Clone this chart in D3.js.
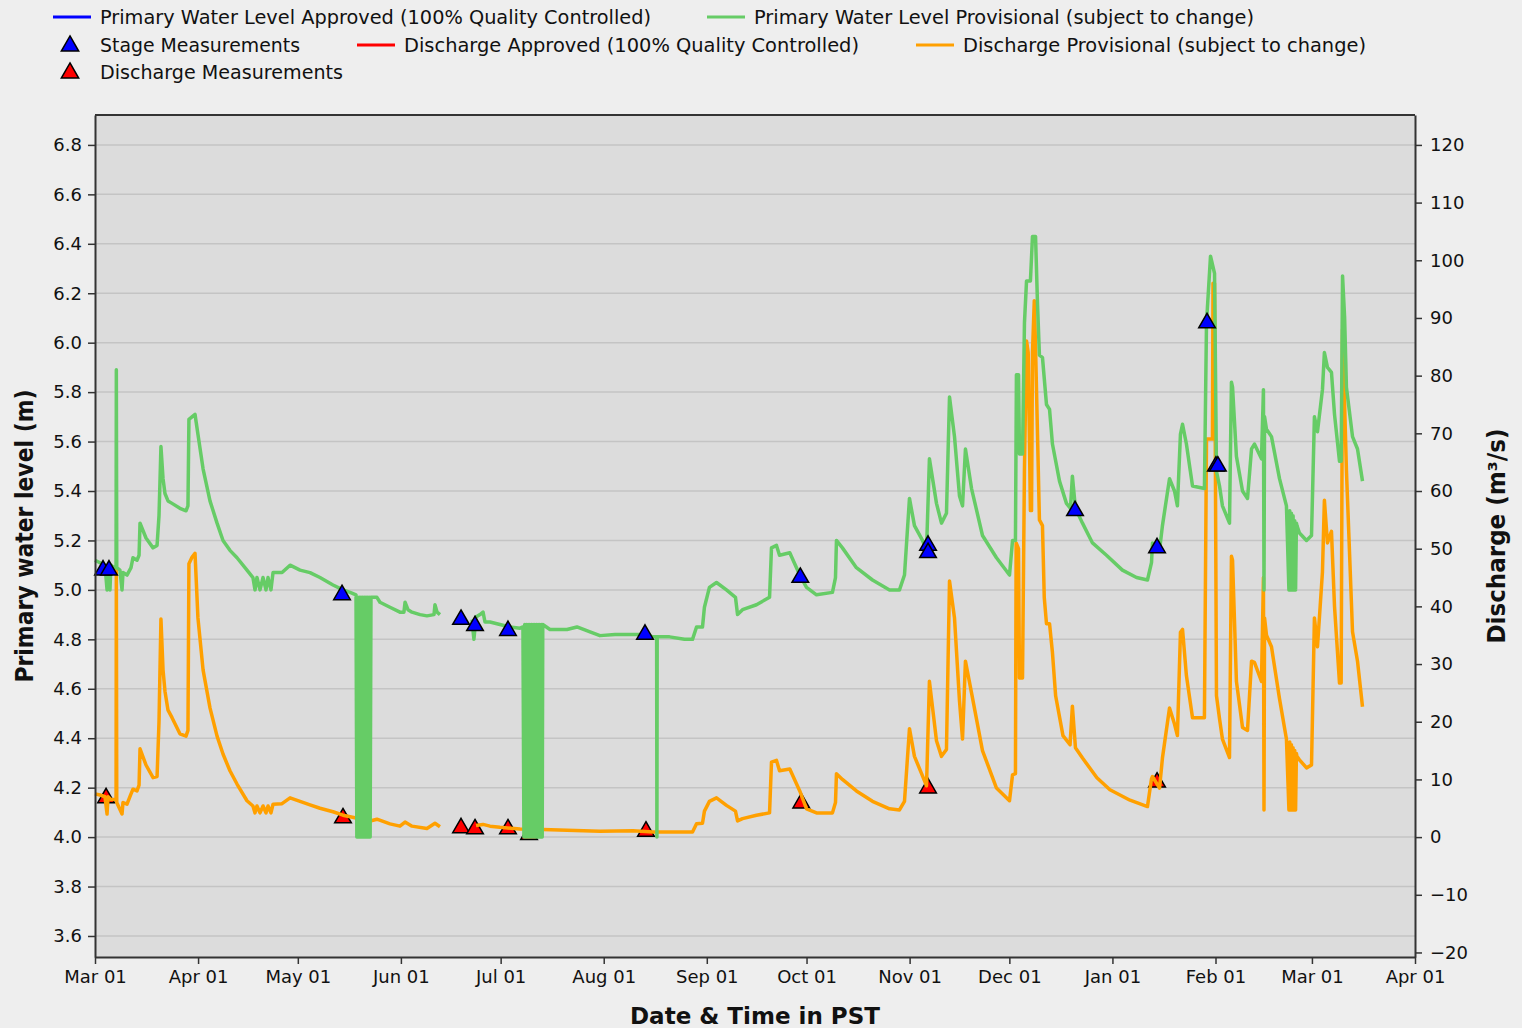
<!DOCTYPE html>
<html>
<head>
<meta charset="utf-8">
<script src="https://cdn.jsdelivr.net/npm/d3@7"></script>
<style>
body { margin: 0; background: #eeeeee; }
text { font-family: "DejaVu Sans", sans-serif; fill: #111; }
</style>
</head>
<body>
<script>
// primary water level, provisional (m) ; null = gap in record
var levelSeries = [
  ["2023-03-01 00",5.12],["2023-03-02 12",5.11],["2023-03-04 00",5.10],["2023-03-04 15",5.00],["2023-03-04 22",5.10],
  ["2023-03-05 12",5.00],["2023-03-05 19",5.10],["2023-03-06 17",5.09],["2023-03-07 08",5.09],["2023-03-07 10",5.89],
  ["2023-03-07 13",5.09],["2023-03-08 12",5.08],["2023-03-09 03",5.00],["2023-03-09 10",5.07],["2023-03-10 15",5.06],
  ["2023-03-11 20",5.09],["2023-03-12 10",5.13],["2023-03-13 15",5.12],["2023-03-14 06",5.14],["2023-03-14 13",5.27],
  ["2023-03-16 08",5.21],["2023-03-18 11",5.17],["2023-03-19 16",5.18],["2023-03-20 06",5.30],["2023-03-20 20",5.58],
  ["2023-03-21 11",5.45],["2023-03-22 01",5.39],["2023-03-22 23",5.36],["2023-03-24 04",5.35],["2023-03-26 13",5.33],
  ["2023-03-28 09",5.32],["2023-03-28 23",5.34],["2023-03-29 06",5.69],["2023-03-30 04",5.70],["2023-03-31 02",5.71],
  ["2023-03-31 23",5.63],["2023-04-02 12",5.49],["2023-04-04 14",5.36],["2023-04-06 17",5.27],["2023-04-08 12",5.20],
  ["2023-04-10 14",5.16],["2023-04-12 17",5.13],["2023-04-15 17",5.08],["2023-04-17 12",5.05],["2023-04-18 03",5.00],
  ["2023-04-18 17",5.05],["2023-04-19 15",5.00],["2023-04-20 13",5.05],["2023-04-21 10",5.00],["2023-04-22 01",5.05],
  ["2023-04-22 22",5.00],["2023-04-23 13",5.07],["2023-04-26 06",5.07],["2023-04-28 16",5.10],["2023-05-01 16",5.08],
  ["2023-05-04 16",5.07],["2023-05-07 16",5.05],["2023-05-11 14",5.02],["2023-05-14 14",5.00],["2023-05-16 17",4.99],
  ["2023-05-18 12",4.98],
  ["2023-05-18 18",4.00],["2023-05-19 00",4.97],["2023-05-19 06",4.00],["2023-05-19 12",4.97],["2023-05-19 18",4.00],
  ["2023-05-20 00",4.97],["2023-05-20 06",4.00],["2023-05-20 12",4.97],["2023-05-20 18",4.00],["2023-05-21 00",4.97],
  ["2023-05-21 06",4.00],["2023-05-21 12",4.97],["2023-05-21 18",4.00],["2023-05-22 00",4.97],["2023-05-22 06",4.00],
  ["2023-05-22 12",4.97],["2023-05-22 18",4.00],["2023-05-23 00",4.97],
  ["2023-05-24 19",4.97],["2023-05-25 17",4.95],["2023-05-28 17",4.93],["2023-05-31 17",4.91],
  ["2023-06-01 22",4.91],["2023-06-02 06",4.95],["2023-06-03 03",4.92],["2023-06-04 08",4.91],["2023-06-06 18",4.90],
  ["2023-06-08 20",4.895],["2023-06-10 23",4.90],["2023-06-11 06",4.94],["2023-06-11 21",4.91],["2023-06-12 18",4.90],
  ["2023-06-12 19",null],
  ["2023-06-22 09",4.88],["2023-06-22 23",4.80],["2023-06-23 14",4.89],["2023-06-24 19",4.90],["2023-06-25 17",4.91],
  ["2023-06-26 07",4.87],["2023-06-27 19",4.87],["2023-06-30 19",4.86],["2023-07-03 19",4.85],["2023-07-06 20",4.845],
  ["2023-07-07 17",4.85],
  ["2023-07-08 00",4.00],["2023-07-08 06",4.86],["2023-07-08 12",4.00],["2023-07-08 18",4.86],["2023-07-09 00",4.00],
  ["2023-07-09 06",4.86],["2023-07-09 12",4.00],["2023-07-09 18",4.86],["2023-07-10 00",4.00],["2023-07-10 06",4.86],
  ["2023-07-10 12",4.00],["2023-07-10 18",4.86],["2023-07-11 00",4.00],["2023-07-11 06",4.86],["2023-07-11 12",4.00],
  ["2023-07-11 18",4.86],["2023-07-12 00",4.00],["2023-07-12 06",4.86],["2023-07-12 12",4.00],["2023-07-12 18",4.86],
  ["2023-07-13 00",4.00],["2023-07-13 06",4.86],["2023-07-13 12",4.00],["2023-07-13 16",4.86],
  ["2023-07-15 20",4.84],["2023-07-20 23",4.84],
  ["2023-07-23 23",4.85],["2023-07-27 21",4.83],["2023-07-30 21",4.815],["2023-08-04 09",4.82],["2023-08-09 19",4.82],
  ["2023-08-13 10",4.82],["2023-08-15 20",4.81],["2023-08-16 22",4.81],["2023-08-17 00",4.00],["2023-08-17 02",4.81],
  ["2023-08-20 19",4.81],["2023-08-25 07",4.80],["2023-08-27 17",4.80],["2023-08-28 22",4.85],["2023-08-30 17",4.85],
  ["2023-08-31 07",4.93],["2023-09-01 19",5.01],["2023-09-03 22",5.03],["2023-09-06 22",5.00],["2023-09-09 15",4.97],
  ["2023-09-10 06",4.90],["2023-09-11 18",4.92],["2023-09-15 23",4.94],["2023-09-19 21",4.97],["2023-09-20 11",5.17],
  ["2023-09-21 23",5.18],["2023-09-22 21",5.14],["2023-09-25 23",5.15],["2023-09-28 23",5.06],["2023-10-01 00",5.01],
  ["2023-10-04 00",4.98],["2023-10-08 19",4.99],["2023-10-09 17",5.05],["2023-10-10 00",5.20],["2023-10-11 19",5.17],
  ["2023-10-16 00",5.09],["2023-10-20 20",5.04],["2023-10-25 23",5.00],["2023-10-28 23",5.00],["2023-10-30 11",5.06],
  ["2023-10-31 23",5.37],["2023-11-02 11",5.26],["2023-11-04 21",5.20],["2023-11-06 02",5.16],["2023-11-06 23",5.53],
  ["2023-11-09 02",5.35],["2023-11-10 14",5.27],["2023-11-12 02",5.31],["2023-11-13 00",5.78],["2023-11-14 12",5.62],
  ["2023-11-16 00",5.38],["2023-11-16 22",5.34],["2023-11-17 19",5.57],["2023-11-19 15",5.41],["2023-11-22 22",5.22],
  ["2023-11-27 03",5.13],["2023-12-01 01",5.06],["2023-12-01 23",5.20],["2023-12-02 20",5.20],["2023-12-03 03",5.87],
  ["2023-12-03 18",5.87],["2023-12-04 01",5.55],["2023-12-04 23",5.55],["2023-12-05 13",6.08],["2023-12-06 04",6.25],
  ["2023-12-07 08",6.25],["2023-12-07 23",6.43],["2023-12-08 21",6.43],["2023-12-09 11",6.16],["2023-12-10 01",5.95],
  ["2023-12-10 23",5.94],["2023-12-12 04",5.75],["2023-12-13 02",5.73],["2023-12-13 23",5.59],["2023-12-16 02",5.44],
  ["2023-12-18 04",5.35],["2023-12-19 09",5.33],["2023-12-19 23",5.46],["2023-12-20 21",5.33],["2023-12-23 00",5.27],
  ["2023-12-26 00",5.19],["2023-12-30 05",5.14],["2024-01-04 00",5.08],["2024-01-08 06",5.05],["2024-01-11 13",5.04],
  ["2024-01-12 18",5.11],["2024-01-13 01",5.19],["2024-01-15 04",5.16],["2024-01-16 01",5.26],["2024-01-18 04",5.45],
  ["2024-01-19 16",5.40],["2024-01-20 13",5.34],["2024-01-21 11",5.63],["2024-01-22 02",5.67],["2024-01-23 06",5.59],
  ["2024-01-25 02",5.42],["2024-01-28 16",5.41],["2024-01-29 07",6.08],["2024-01-30 12",6.35],["2024-01-31 17",6.28],
  ["2024-02-01 07",5.48],["2024-02-02 05",5.42],["2024-02-03 02",5.34],["2024-02-05 05",5.27],["2024-02-05 19",5.84],
  ["2024-02-06 03",5.82],["2024-02-07 07",5.54],["2024-02-09 03",5.40],["2024-02-10 15",5.37],["2024-02-11 20",5.57],
  ["2024-02-12 17",5.59],["2024-02-14 20",5.53],["2024-02-15 10",5.81],["2024-02-15 14",5.00],["2024-02-15 18",5.70],
  ["2024-02-16 08",5.65],["2024-02-17 20",5.62],["2024-02-20 06",5.45],["2024-02-22 08",5.34],
  ["2024-02-23 02",5.00],["2024-02-23 08",5.32],["2024-02-23 14",5.00],["2024-02-23 20",5.31],["2024-02-24 02",5.00],
  ["2024-02-24 08",5.30],["2024-02-24 14",5.00],["2024-02-24 20",5.28],["2024-02-25 02",5.00],["2024-02-25 08",5.27],
  ["2024-02-25 12",5.26],
  ["2024-02-26 06",5.23],["2024-02-28 09",5.20],["2024-02-29 21",5.22],["2024-03-01 18",5.70],["2024-03-02 16",5.64],
  ["2024-03-04 04",5.81],["2024-03-04 18",5.96],["2024-03-05 16",5.90],["2024-03-06 21",5.88],["2024-03-07 19",5.71],
  ["2024-03-09 07",5.52],["2024-03-09 19",5.52],["2024-03-10 05",6.27],["2024-03-10 20",6.10],["2024-03-11 09",5.82],
  ["2024-03-13 05",5.62],["2024-03-14 17",5.57],["2024-03-16 05",5.44]
];

// discharge, provisional (m3/s)
var dischargeSeries = [
  ["2023-03-01 00",7.5],["2023-03-02 12",7.3],["2023-03-04 00",7.0],["2023-03-04 15",4.0],["2023-03-04 22",7.0],
  ["2023-03-05 19",6.5],["2023-03-07 08",6.5],["2023-03-07 10",47],["2023-03-07 13",6.0],["2023-03-09 03",4.0],
  ["2023-03-09 10",6.0],["2023-03-10 15",5.7],["2023-03-11 20",7.5],["2023-03-12 10",8.3],["2023-03-13 15",8.0],
  ["2023-03-14 06",9.0],["2023-03-14 13",15.3],["2023-03-16 08",12.5],["2023-03-18 11",10.3],["2023-03-19 16",10.5],
  ["2023-03-20 06",20],["2023-03-20 20",37.8],["2023-03-21 11",29],["2023-03-22 01",25.3],["2023-03-22 23",22],
  ["2023-03-24 04",20.7],["2023-03-26 13",17.9],["2023-03-28 09",17.5],["2023-03-28 23",18.5],["2023-03-29 06",47.4],
  ["2023-03-30 04",48.5],["2023-03-31 02",49.2],["2023-03-31 23",38],["2023-04-02 12",29],["2023-04-04 14",22.4],
  ["2023-04-06 17",17.5],["2023-04-08 12",14.4],["2023-04-10 14",11.5],["2023-04-12 17",9.2],["2023-04-15 17",6.3],
  ["2023-04-17 12",5.4],["2023-04-18 03",4.2],["2023-04-18 17",5.4],["2023-04-19 15",4.2],["2023-04-20 13",5.4],
  ["2023-04-21 10",4.2],["2023-04-22 01",5.4],["2023-04-22 22",4.2],["2023-04-23 13",5.7],["2023-04-26 06",5.8],
  ["2023-04-28 16",6.8],["2023-05-01 16",6.2],["2023-05-04 16",5.6],["2023-05-07 16",5.0],["2023-05-11 14",4.4],
  ["2023-05-14 14",3.8],["2023-05-18 12",3.3],["2023-05-22 18",2.8],["2023-05-24 19",3.1],["2023-05-28 17",2.3],
  ["2023-05-31 17",1.9],["2023-06-02 06",2.6],["2023-06-04 08",1.9],["2023-06-08 20",1.5],["2023-06-11 06",2.4],
  ["2023-06-12 18",1.8],
  ["2023-06-12 19",null],
  ["2023-06-23 14",2.0],["2023-06-25 17",2.2],["2023-06-27 19",1.9],["2023-06-30 19",1.7],["2023-07-06 20",1.4],
  ["2023-07-13 18",1.3],["2023-07-20 23",1.2],["2023-07-30 21",1.0],["2023-08-09 19",1.1],["2023-08-15 20",0.9],
  ["2023-08-27 17",0.9],["2023-08-28 22",2.3],["2023-08-30 17",2.4],["2023-08-31 07",4.5],["2023-09-01 19",6.2],
  ["2023-09-03 22",6.8],["2023-09-06 22",5.5],["2023-09-09 15",4.5],["2023-09-10 06",2.8],["2023-09-11 18",3.2],
  ["2023-09-15 23",3.8],["2023-09-19 21",4.2],["2023-09-20 11",13.0],["2023-09-21 23",13.3],["2023-09-22 21",11.5],
  ["2023-09-25 23",11.8],["2023-09-28 23",8.0],["2023-10-01 00",4.9],["2023-10-04 00",4.2],["2023-10-08 19",4.2],
  ["2023-10-09 17",6.0],["2023-10-10 00",11.0],["2023-10-11 19",10.0],["2023-10-16 00",8.0],["2023-10-20 20",6.2],
  ["2023-10-25 23",4.9],["2023-10-28 23",4.7],["2023-10-30 11",6.2],["2023-10-31 23",18.8],["2023-11-02 11",14.0],
  ["2023-11-04 21",10.6],["2023-11-06 02",8.9],["2023-11-06 23",27.0],["2023-11-09 02",16.7],["2023-11-10 14",14.0],
  ["2023-11-12 02",15.2],["2023-11-13 00",44.4],["2023-11-14 12",38.0],["2023-11-16 00",23.6],["2023-11-16 22",17.0],
  ["2023-11-17 19",30.5],["2023-11-19 15",25.0],["2023-11-22 22",15.0],["2023-11-27 03",8.5],["2023-12-01 01",6.3],
  ["2023-12-01 23",10.8],["2023-12-02 20",11.0],["2023-12-03 01",51],["2023-12-03 18",50],["2023-12-04 01",27.6],
  ["2023-12-04 23",27.6],["2023-12-05 13",64],["2023-12-06 04",86],["2023-12-06 16",84],["2023-12-07 08",56.6],
  ["2023-12-07 16",56.6],["2023-12-07 23",84],["2023-12-08 12",93],["2023-12-08 21",85],["2023-12-10 01",55],
  ["2023-12-10 23",54],["2023-12-11 12",41.5],["2023-12-12 04",37],["2023-12-13 02",37],["2023-12-13 23",32],
  ["2023-12-14 22",24.5],["2023-12-17 03",17.6],["2023-12-19 06",16],["2023-12-19 23",22.7],["2023-12-20 21",15.5],
  ["2023-12-23 00",13.7],["2023-12-27 08",10.3],["2023-12-31 06",8.2],["2024-01-06 07",6.4],["2024-01-11 13",5.3],
  ["2024-01-12 18",10.1],["2024-01-13 01",10.5],["2024-01-15 04",8.5],["2024-01-16 01",13.7],["2024-01-18 04",22.4],
  ["2024-01-19 16",19.6],["2024-01-20 13",17.6],["2024-01-21 11",35.5],["2024-01-22 02",36],["2024-01-23 06",28],
  ["2024-01-25 02",20.7],["2024-01-28 16",20.7],["2024-01-29 07",69],["2024-01-31 02",69],["2024-01-31 06",96],
  ["2024-01-31 17",96],["2024-02-01 07",24.5],["2024-02-02 05",20.5],["2024-02-03 02",17],["2024-02-05 05",13.8],
  ["2024-02-05 19",48.7],["2024-02-06 03",48],["2024-02-07 07",27],["2024-02-09 03",19],["2024-02-10 15",18.5],
  ["2024-02-11 20",30.5],["2024-02-12 17",30.3],["2024-02-14 20",27],["2024-02-15 10",45],["2024-02-15 14",4.7],
  ["2024-02-15 18",38],["2024-02-16 08",35],["2024-02-17 20",33],["2024-02-20 06",24],["2024-02-22 08",17],
  ["2024-02-23 02",4.7],["2024-02-23 08",16.5],["2024-02-23 14",4.7],["2024-02-23 20",16],["2024-02-24 02",4.7],
  ["2024-02-24 08",15.5],["2024-02-24 14",4.7],["2024-02-24 20",15],["2024-02-25 02",4.7],["2024-02-25 08",14.5],
  ["2024-02-25 12",14],
  ["2024-02-26 06",13.4],["2024-02-28 09",12],["2024-02-29 21",12.5],["2024-03-01 18",38],
  ["2024-03-02 16",33],["2024-03-04 04",46],["2024-03-04 18",58.4],["2024-03-05 16",51],["2024-03-06 21",53],
  ["2024-03-07 19",40],["2024-03-09 07",26.7],["2024-03-09 19",26.7],["2024-03-10 05",88],["2024-03-10 20",75],
  ["2024-03-11 09",63.6],["2024-03-13 05",35.6],["2024-03-14 17",30.5],["2024-03-16 05",22.6]
];

// field measurements
var stageMeasurements = [
  ["2023-03-03 10",5.08],["2023-03-05 05",5.08],["2023-05-14 07",4.98],["2023-06-19 02",4.88],["2023-06-23 07",4.855],
  ["2023-07-03 05",4.835],["2023-08-13 10",4.82],["2023-09-29 03",5.05],["2023-11-06 13",5.18],["2023-11-06 13",5.15],
  ["2023-12-20 18",5.32],["2024-01-14 10",5.17],["2024-01-29 11",6.08],["2024-02-01 03",5.50],["2024-02-01 17",5.50]
];
var dischargeMeasurements = [
  ["2023-03-04 08",6.8],["2023-05-14 14",3.3],["2023-06-19 02",1.6],["2023-06-23 07",1.4],["2023-07-03 05",1.4],
  ["2023-07-09 13",0.4],["2023-08-13 17",1.0],["2023-09-29 10",5.9],["2023-11-06 13",8.5],["2024-01-14 10",9.5]
];

var monthTicks = ["2023-03-01 00","2023-04-01 00","2023-05-01 00","2023-06-01 00","2023-07-01 00","2023-08-01 00",
  "2023-09-01 00","2023-10-01 00","2023-11-01 00","2023-12-01 00","2024-01-01 00","2024-02-01 00","2024-03-01 00","2024-04-01 00"];
var levelTicks = [3.6,3.8,4.0,4.2,4.4,4.6,4.8,5.0,5.2,5.4,5.6,5.8,6.0,6.2,6.4,6.6,6.8];
var dischargeTicks = [-20,-10,0,10,20,30,40,50,60,70,80,90,100,110,120];

var legendItems = [
  {label: "Primary Water Level Approved (100% Quality Controlled)", kind: "line", color: "#0000ff", x: 53, row: 0, w: 551},
  {label: "Primary Water Level Provisional (subject to change)", kind: "line", color: "#66cc66", x: 707, row: 0, w: 500},
  {label: "Stage Measurements", kind: "tri", color: "#0000ff", x: 53, row: 1, w: 200},
  {label: "Discharge Approved (100% Quality Controlled)", kind: "line", color: "#ff0000", x: 357, row: 1, w: 455},
  {label: "Discharge Provisional (subject to change)", kind: "line", color: "#ffa000", x: 916, row: 1, w: 403},
  {label: "Discharge Measurements", kind: "tri", color: "#ff0000", x: 53, row: 2, w: 243}
];

var W = 1522, H = 1028;
var plot = {left: 95, right: 1415, top: 115, bottom: 957};
var parse = d3.timeParse("%Y-%m-%d %H");

var svg = d3.select("body").append("svg")
    .attr("width", W)
    .attr("height", H);

svg.append("rect").attr("width", W).attr("height", H).attr("fill", "#eeeeee");

var x = d3.scaleTime()
    .domain([parse(monthTicks[0]), parse(monthTicks[monthTicks.length - 1])])
    .range([plot.left, plot.right]);

var yLevel = d3.scaleLinear().domain([3.515, 6.921]).range([plot.bottom, plot.top]);
// discharge axis shares pixel rows: 4.0 m <-> 0, 6.8 m <-> 120
var yQ = d3.scaleLinear()
    .domain([(3.515 - 4) * 120 / 2.8, (6.921 - 4) * 120 / 2.8])
    .range([plot.bottom, plot.top]);

svg.append("rect")
    .attr("x", plot.left).attr("y", plot.top)
    .attr("width", plot.right - plot.left).attr("height", plot.bottom - plot.top)
    .attr("fill", "#dcdcdc");

// gridlines
svg.append("g").selectAll("line")
    .data(levelTicks)
    .enter().append("line")
    .attr("x1", plot.left).attr("x2", plot.right)
    .attr("y1", function (d) { return yLevel(d); })
    .attr("y2", function (d) { return yLevel(d); })
    .attr("stroke", "#c4c4c4")
    .attr("stroke-width", 1.5);

var tri = d3.symbol().type(d3.symbolTriangle).size(120);

// discharge measurements (drawn under the lines)
svg.append("g").selectAll("path")
    .data(dischargeMeasurements)
    .enter().append("path")
    .attr("d", tri)
    .attr("transform", function (d) { return "translate(" + x(parse(d[0])) + "," + yQ(d[1]) + ")"; })
    .attr("fill", "#ff0000")
    .attr("stroke", "#000")
    .attr("stroke-width", 1.5);

var qLine = d3.line()
    .defined(function (d) { return d[1] !== null; })
    .x(function (d) { return x(parse(d[0])); })
    .y(function (d) { return yQ(d[1]); });

svg.append("path")
    .datum(dischargeSeries)
    .attr("d", qLine)
    .attr("fill", "none")
    .attr("stroke", "#ffa000")
    .attr("stroke-width", 3.5)
    .attr("stroke-linejoin", "round");

var levelLine = d3.line()
    .defined(function (d) { return d[1] !== null; })
    .x(function (d) { return x(parse(d[0])); })
    .y(function (d) { return yLevel(d[1]); });

svg.append("path")
    .datum(levelSeries)
    .attr("d", levelLine)
    .attr("fill", "none")
    .attr("stroke", "#66cc66")
    .attr("stroke-width", 3.5)
    .attr("stroke-linejoin", "round");

svg.append("g").selectAll("path")
    .data(stageMeasurements)
    .enter().append("path")
    .attr("d", tri)
    .attr("transform", function (d) { return "translate(" + x(parse(d[0])) + "," + yLevel(d[1]) + ")"; })
    .attr("fill", "#0000ff")
    .attr("stroke", "#000")
    .attr("stroke-width", 1.5);

// axes
var xAxis = svg.append("g")
    .attr("transform", "translate(0," + plot.bottom + ")")
    .call(d3.axisBottom(x)
        .tickValues(monthTicks.map(parse))
        .tickFormat(d3.timeFormat("%b %d"))
        .tickSize(7).tickSizeOuter(0).tickPadding(6));

var leftAxis = svg.append("g")
    .attr("transform", "translate(" + plot.left + ",0)")
    .call(d3.axisLeft(yLevel)
        .tickValues(levelTicks)
        .tickFormat(d3.format(".1f"))
        .tickSize(7).tickSizeOuter(0).tickPadding(6));

var rightAxis = svg.append("g")
    .attr("transform", "translate(" + plot.right + ",0)")
    .call(d3.axisRight(yQ)
        .tickValues(dischargeTicks)
        .tickFormat(d3.format("d"))
        .tickSize(7).tickSizeOuter(0).tickPadding(8));

[xAxis, leftAxis, rightAxis].forEach(function (g) {
    g.selectAll("text").style("font-size", "18px").style("font-family", "'DejaVu Sans', sans-serif").attr("fill", "#111");
    g.selectAll("line").attr("stroke", "#333").attr("stroke-width", 1.5);
    g.select(".domain").attr("stroke", "#333").attr("stroke-width", 2);
});

svg.append("line")
    .attr("x1", plot.left).attr("x2", plot.right)
    .attr("y1", plot.top).attr("y2", plot.top)
    .attr("stroke", "#333").attr("stroke-width", 2);

// axis titles
svg.append("text")
    .attr("x", (plot.left + plot.right) / 2)
    .attr("y", 1024)
    .attr("text-anchor", "middle")
    .style("font-size", "23px").style("font-weight", "bold")
    .attr("textLength", 250).attr("lengthAdjust", "spacingAndGlyphs")
    .text("Date & Time in PST");

svg.append("text")
    .attr("transform", "translate(33,536) rotate(-90)")
    .attr("text-anchor", "middle")
    .style("font-size", "24px").style("font-weight", "bold")
    .attr("fill", "#0000ff")
    .attr("textLength", 293).attr("lengthAdjust", "spacingAndGlyphs")
    .text("Primary water level (m)");

svg.append("text")
    .attr("transform", "translate(1505,536) rotate(-90)")
    .attr("text-anchor", "middle")
    .style("font-size", "24px").style("font-weight", "bold")
    .attr("fill", "#ff0000")
    .attr("textLength", 215).attr("lengthAdjust", "spacingAndGlyphs")
    .text("Discharge (m³/s)");

// legend
var rowY = [17, 45, 72];
var legend = svg.selectAll(".legend")
    .data(legendItems)
    .enter().append("g")
    .attr("class", "legend");

legend.filter(function (d) { return d.kind === "line"; })
    .append("line")
    .attr("x1", function (d) { return d.x; })
    .attr("x2", function (d) { return d.x + 38; })
    .attr("y1", function (d) { return rowY[d.row]; })
    .attr("y2", function (d) { return rowY[d.row]; })
    .attr("stroke", function (d) { return d.color; })
    .attr("stroke-width", 3);

legend.filter(function (d) { return d.kind === "tri"; })
    .append("path")
    .attr("d", d3.symbol().type(d3.symbolTriangle).size(130))
    .attr("transform", function (d) { return "translate(" + (d.x + 17) + "," + (rowY[d.row] + 1) + ")"; })
    .attr("fill", function (d) { return d.color; })
    .attr("stroke", "#000")
    .attr("stroke-width", 1.5);

legend.append("text")
    .attr("x", function (d) { return d.x + 47; })
    .attr("y", function (d) { return rowY[d.row] + 7; })
    .style("font-size", "19px")
    .attr("textLength", function (d) { return d.w; })
    .attr("lengthAdjust", "spacingAndGlyphs")
    .text(function (d) { return d.label; });
</script>
</body>
</html>
